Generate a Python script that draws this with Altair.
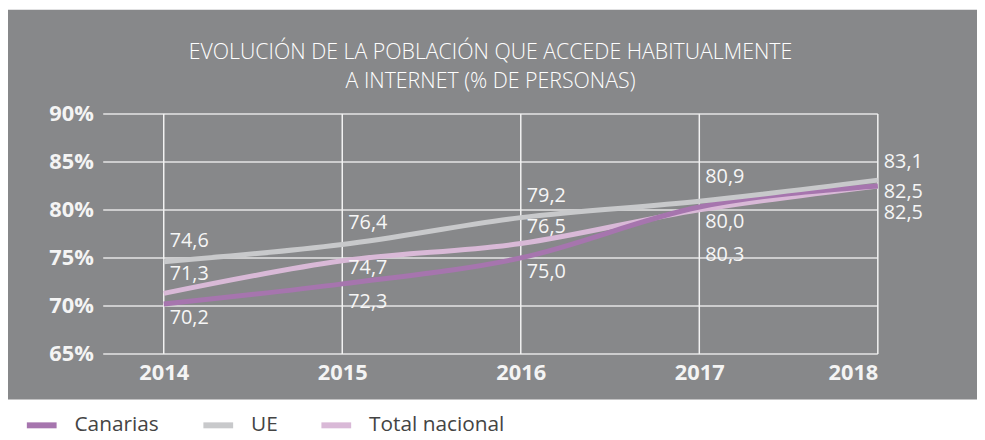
import altair as alt
import pandas as pd

years = [2014, 2015, 2016, 2017, 2018]
canarias = [70.2, 72.3, 75.0, 80.3, 82.5]
ue = [74.6, 76.4, 79.2, 80.9, 83.1]
total_nacional = [71.3, 74.7, 76.5, 80.0, 82.5]
series_names = ["Canarias", "UE", "Total nacional"]
y_ticks = [65, 70, 75, 80, 85, 90]
title_lines = ["EVOLUCIÓN DE LA POBLACIÓN QUE ACCEDE HABITUALMENTE", "A INTERNET (% DE PERSONAS)"]

PLOT_W, PLOT_H = 781, 242
Y_MIN, Y_MAX = 65, 90

# style: label pixel offsets (vertical, + = down) relative to the point
LABEL_DY = {
    "UE": [-21, -22, -22, -24, -18],
    "Total nacional": [-20, 7, -17, 12, 27],
    "Canarias": [14, 18, 14, 48, 6],
}

rows = []
for name, vals in [("Total nacional", total_nacional), ("Canarias", canarias), ("UE", ue)]:
    for i, (yr, v) in enumerate(zip(years, vals)):
        rows.append({"year": yr, "value": v, "serie": name,
                     "label_pos": v - LABEL_DY[name][i] * (Y_MAX - Y_MIN) / PLOT_H})
df = pd.DataFrame(rows)

BG = "#87888a"
GRID = "#e4e4e4"
FONT = "Open Sans"
colors = ["#a675ae", "#c8c9cb", "#d9b9d7"]

x_domain = [2013.661, 2018]
xs = alt.Scale(domain=x_domain, nice=False, zero=False)
ys = alt.Scale(domain=[Y_MIN, Y_MAX], nice=False, zero=False)

panel = alt.Chart(pd.DataFrame({"a": [0]})).mark_rect(fill=BG).encode(
    x=alt.value(-96), x2=alt.value(881), y=alt.value(-105), y2=alt.value(288)
)

hgrid = alt.Chart(pd.DataFrame({"t": y_ticks})).mark_rule(color=GRID, strokeWidth=1.5).encode(
    y=alt.Y("t:Q", scale=ys), x=alt.value(0), x2=alt.value(PLOT_W)
)
vgrid = alt.Chart(pd.DataFrame({"yr": years})).mark_rule(color="#f2f2f2", strokeWidth=1.5).encode(
    x=alt.X("yr:Q", scale=xs), y=alt.value(0), y2=alt.value(PLOT_H)
)

base = alt.Chart(df)

lines = base.mark_line(strokeWidth=5, interpolate="monotone").encode(
    x=alt.X("year:Q", scale=xs,
            axis=alt.Axis(values=years, format="d", title=None, grid=False, domain=False, ticks=False,
                          labelFont=FONT, labelFontWeight="bold", labelFontSize=22, labelColor="#f4f4f4",
                          labelPadding=9, zindex=2)),
    y=alt.Y("value:Q", scale=ys,
            axis=alt.Axis(values=y_ticks, title=None, grid=False, domain=False, ticks=False,
                          labelExpr="datum.value + '%'",
                          labelFont=FONT, labelFontWeight="bold", labelFontSize=22, labelColor="#f4f4f4",
                          labelPadding=10, zindex=2)),
    color=alt.Color("serie:N", scale=alt.Scale(domain=series_names, range=colors),
                    legend=alt.Legend(title=None, orient="none", direction="horizontal",
                                      legendX=-80, legendY=296,
                                      symbolType="stroke", symbolSize=900, symbolStrokeWidth=6,
                                      labelFont=FONT, labelFontSize=21, labelColor="#444444",
                                      labelOffset=15, columnPadding=32, zindex=2)),
    detail="serie:N",
)

labels = base.transform_calculate(
    lbl="replace(format(datum.value, '.1f'), '.', ',')"
).mark_text(align="left", baseline="middle", dx=6, font=FONT, fontSize=20, color="#f6f6f6").encode(
    x=alt.X("year:Q", scale=xs),
    y=alt.Y("label_pos:Q", scale=ys),
    text="lbl:N",
)

chart = alt.layer(panel, hgrid, vgrid, lines, labels).properties(
    width=PLOT_W, height=PLOT_H,
    title=alt.TitleParams(text=title_lines, font=FONT, fontSize=21.5, fontWeight=300, color="#ffffff",
                          lineHeight=29, anchor="middle", offset=-83, zindex=2),
    autosize=alt.AutoSizeParams(type="none"),
    padding={"left": 96, "top": 105, "right": 100, "bottom": 85},
).configure(background="#ffffff").configure_view(stroke=None)

chart.save("out.html", embed_options={"renderer": "svg", "actions": False})
